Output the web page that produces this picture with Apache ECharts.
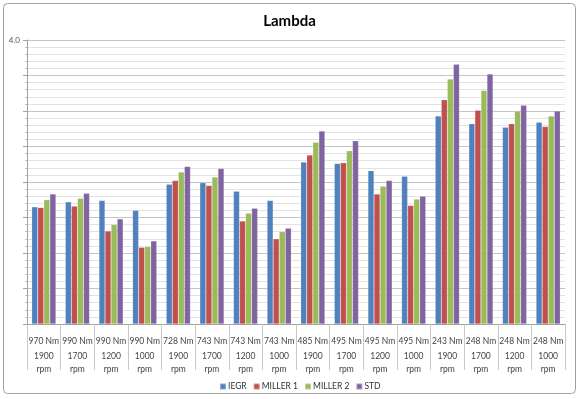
<!DOCTYPE html>
<html>
<head>
<meta charset="utf-8">
<title>Lambda</title>
<script src="https://cdn.jsdelivr.net/npm/echarts@6/dist/echarts.min.js"></script>
<style>
  html, body { margin: 0; padding: 0; background: #fff; }
  #chart { width: 579px; height: 399px; }
</style>
</head>
<body>
<div id="chart"></div>
<script>
// load points (torque / speed)
var torques = ['970 Nm', '990 Nm', '990 Nm', '990 Nm', '728 Nm', '743 Nm', '743 Nm', '743 Nm',
  '485 Nm', '495 Nm', '495 Nm', '495 Nm', '243 Nm', '248 Nm', '248 Nm', '248 Nm']
var speeds = ['1900', '1700', '1200', '1000', '1900', '1700', '1200', '1000',
  '1900', '1700', '1200', '1000', '1900', '1700', '1200', '1000']

// lambda values
var iegr = [1.65, 1.72, 1.74, 1.60, 1.97, 1.99, 1.87, 1.74, 2.28, 2.26, 2.16, 2.08, 2.93, 2.82, 2.77, 2.84]
var miller1 = [1.64, 1.66, 1.31, 1.08, 2.02, 1.95, 1.45, 1.20, 2.38, 2.27, 1.83, 1.67, 3.16, 3.01, 2.82, 2.78]
var miller2 = [1.75, 1.77, 1.40, 1.09, 2.14, 2.07, 1.56, 1.30, 2.56, 2.44, 1.94, 1.76, 3.45, 3.29, 3.00, 2.93]
var std = [1.83, 1.84, 1.48, 1.17, 2.22, 2.19, 1.63, 1.35, 2.72, 2.58, 2.02, 1.80, 3.66, 3.52, 3.08, 3.00]

var categories = []
for (var i = 0; i < torques.length; i++) {
  categories.push(torques[i] + '|' + speeds[i])
}

var font = 'Lato, "Liberation Sans", sans-serif'
var chart = echarts.init(document.getElementById('chart'))

function bar(name, data, color) {
  return {
    name: name,
    type: 'bar',
    data: data,
    barGap: '0%',
    barCategoryGap: '28%',
    itemStyle: { color: color, borderColor: 'rgba(255,255,255,0.35)', borderWidth: 0.5 }
  }
}

chart.setOption({
  animation: false,
  textStyle: { fontFamily: font },
  graphic: [{
    type: 'rect',
    shape: { x: 3.5, y: 3.5, width: 572, height: 390, r: 4 },
    style: { fill: 'none', stroke: '#a0a0a0', lineWidth: 1 },
    silent: true
  }],
  title: {
    text: 'Lambda',
    left: 'center',
    top: 9,
    textStyle: { fontFamily: font, fontSize: 15, fontWeight: 'bold', color: '#000' }
  },
  legend: {
    data: ['IEGR', 'MILLER 1', 'MILLER 2', 'STD'],
    left: 214,
    top: 377,
    icon: 'rect',
    itemWidth: 6,
    itemHeight: 6,
    itemGap: 6,
    textStyle: { fontFamily: font, fontSize: 8.5, color: '#333', padding: [0, 0, 0, -3] }
  },
  grid: { left: 27, right: 14, top: 40, bottom: 75 },
  xAxis: {
    type: 'category',
    data: categories,
    axisLine: { lineStyle: { color: '#a0a0a0' } },
    axisTick: { show: true, interval: 0, length: 46, lineStyle: { color: '#c8c8c8' } },
    axisLabel: {
      interval: 0,
      margin: 8,
      formatter: function(v) {
        var p = v.split('|')
        return '{a|' + p[0] + '}\n{b|' + p[1] + '}\n{b|rpm}'
      },
      rich: {
        a: { fontFamily: font, fontSize: 8.5, color: '#444', lineHeight: 18 },
        b: { fontFamily: font, fontSize: 8.5, color: '#444', lineHeight: 13 }
      }
    }
  },
  yAxis: {
    type: 'value',
    min: 0,
    max: 4,
    interval: 0.5,
    axisLine: { show: true, lineStyle: { color: '#a0a0a0' } },
    axisTick: { show: true, length: 4, lineStyle: { color: '#a0a0a0' } },
    minorTick: { show: true, splitNumber: 5, length: 2, lineStyle: { color: '#c0c0c0' } },
    axisLabel: {
      fontSize: 8,
      color: '#555',
      margin: 7,
      formatter: function(v) { return v === 4 ? '4.0' : '' }
    },
    splitLine: { lineStyle: { color: '#c4c4c4' } },
    minorSplitLine: { show: true, lineStyle: { color: '#e2e2e2' } }
  },
  series: [
    bar('IEGR', iegr, '#4F81BD'),
    bar('MILLER 1', miller1, '#C0504D'),
    bar('MILLER 2', miller2, '#9BBB59'),
    bar('STD', std, '#8064A2')
  ]
})
</script>
</body>
</html>
